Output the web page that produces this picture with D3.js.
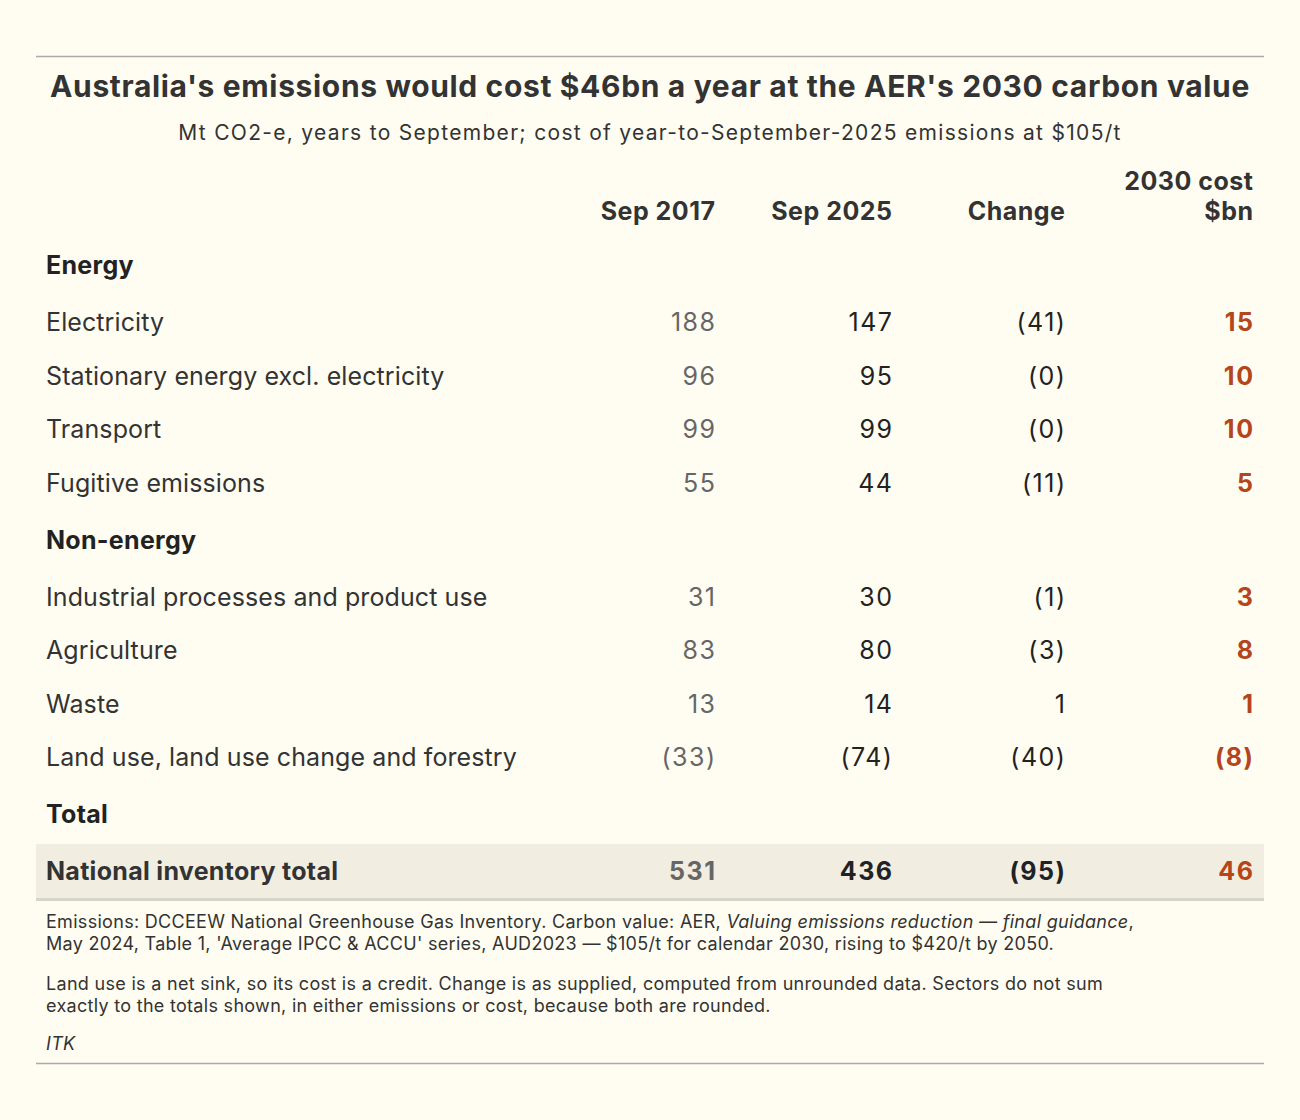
<!DOCTYPE html>
<html>
<head>
<meta charset="utf-8">
<title>Australia's emissions cost table</title>
<style>
  body { margin: 0; background: #fffdf2; }
  svg { display: block; font-family: Inter, Roboto, "Noto Sans", sans-serif; }
  .title { font-size: 30px; font-weight: 700; fill: #333; letter-spacing: 0.65px; }
  .subtitle { font-size: 21px; fill: #333; letter-spacing: 1.3px; }
  .head { font-size: 25px; font-weight: 700; fill: #333; letter-spacing: 0.5px; }
  .label { font-size: 25px; fill: #333; letter-spacing: 0.1px; }
  .group { font-size: 25px; font-weight: 700; fill: #222; letter-spacing: 0.3px; }
  .num { font-size: 25px; fill: #333; letter-spacing: 1.5px; }
  .note { font-size: 18px; fill: #333; letter-spacing: 0.3px; }
</style>
</head>
<body>
<svg class="chart" width="1300" height="1120"></svg>
<script src="https://d3js.org/d3.v7.min.js"></script>
<script>

// sector rows, in table order
var groups = ["Energy", "Energy", "Energy", "Energy",
              "Non-energy", "Non-energy", "Non-energy", "Non-energy"];
var sectors = ["Electricity",
               "Stationary energy excl. electricity",
               "Transport",
               "Fugitive emissions",
               "Industrial processes and product use",
               "Agriculture",
               "Waste",
               "Land use, land use change and forestry"];
var sep2017 = [188, 96, 99, 55, 31, 83, 13, -33];
var sep2025 = [147, 95, 99, 44, 30, 80, 14, -74];
var change  = [-41, -0, -0, -11, -1, -3, 1, -40];   // -0 shows as (0)
var cost    = [15, 10, 10, 5, 3, 8, 1, -8];

var totalLabel = "National inventory total";
var totalValues = [531, 436, -95, 46];

var columns = ["Sep 2017", "Sep 2025", "Change", "2030 cost\n$bn"];

var width = 1300, height = 1120;
var left = 36, right = 1264;

var svg = d3.select('.chart')
    .attr('width', width)
    .attr('height', height);

svg.append('rect').attr('width', width).attr('height', height).attr('fill', '#fffdf2');

// build the row list: group headers, sectors, then the total
var rows = [];
sectors.forEach(function(s, i) {
    if (i === 0 || groups[i] !== groups[i - 1]) rows.push({type: 'group', label: groups[i]});
    rows.push({type: 'row', label: s, values: [sep2017[i], sep2025[i], change[i], cost[i]]});
});
rows.push({type: 'group', label: 'Total'});
rows.push({type: 'total', label: totalLabel, values: totalValues});

// row heights: a bit more room next to group headers
var y = 265;
rows.forEach(function(r, i) {
    if (i > 0) {
        y += 53.5;
        if (r.type !== 'row' || rows[i - 1].type === 'group') y += 3.5;
    }
    r.y = y;
});

// right edges of numeric columns
var xCol = d3.scaleOrdinal()
    .domain(d3.range(columns.length))
    .range([715, 892, 1065, 1253]);

function fmt(v) {
    var neg = v < 0 || (v === 0 && 1 / v < 0);
    return neg ? '(' + Math.abs(v) + ')' : String(v);
}

// rules
svg.append('line').attr('x1', left).attr('x2', right).attr('y1', 56.5).attr('y2', 56.5)
    .attr('stroke', '#aaa').attr('stroke-width', 1.5);
svg.append('line').attr('x1', left).attr('x2', right).attr('y1', 1063.5).attr('y2', 1063.5)
    .attr('stroke', '#aaa').attr('stroke-width', 1.5);

// title
svg.append('text').attr('class', 'title')
    .attr('x', 650).attr('y', 86).attr('text-anchor', 'middle').attr('dominant-baseline', 'central')
    .text("Australia's emissions would cost $46bn a year at the AER's 2030 carbon value");
svg.append('text').attr('class', 'subtitle')
    .attr('x', 650).attr('y', 132).attr('text-anchor', 'middle').attr('dominant-baseline', 'central')
    .text("Mt CO2-e, years to September; cost of year-to-September-2025 emissions at $105/t");

// column headers (letter-spacing trails the last glyph, so nudge right)
var heads = svg.append('g').selectAll('text')
    .data(columns)
    .enter()
    .append('text')
    .attr('class', 'head')
    .attr('text-anchor', 'end')
    .attr('dominant-baseline', 'central');
heads.each(function(d, i) {
    var lines = d.split('\n');
    var t = d3.select(this);
    lines.forEach(function(l, j) {
        t.append('tspan')
            .attr('x', xCol(i) + 0.5)
            .attr('y', 211 - (lines.length - 1 - j) * 30)
            .text(l);
    });
});

// total band
var totalRow = rows[rows.length - 1];
svg.append('rect')
    .attr('x', left).attr('width', right - left)
    .attr('y', totalRow.y - 27).attr('height', 54)
    .attr('fill', '#f1eee1');
svg.append('rect')
    .attr('x', left).attr('width', right - left)
    .attr('y', totalRow.y + 27).attr('height', 3)
    .attr('fill', '#d6d4cc');

// rows
var rowG = svg.append('g').selectAll('g')
    .data(rows)
    .enter()
    .append('g')
    .attr('transform', function(d) { return 'translate(0,' + d.y + ')'; });

rowG.append('text')
    .attr('class', function(d) { return d.type === 'row' ? 'label' : 'group'; })
    .attr('x', 46)
    .attr('dominant-baseline', 'central')
    .style('fill', function(d) { return d.type === 'total' ? '#333' : null; })
    .text(function(d) { return d.label; });

var colColor = ['#666', '#222', '#222', '#b5451b'];

rowG.filter(function(d) { return d.values; })
    .selectAll('text.num')
    .data(function(d) { return d.values.map(function(v) { return {v: v, total: d.type === 'total'}; }); })
    .enter()
    .append('text')
    .attr('class', 'num')
    .attr('x', function(d, i) { return xCol(i) + 1.5; })
    .attr('text-anchor', 'end')
    .attr('dominant-baseline', 'central')
    .style('fill', function(d, i) { return colColor[i]; })
    .style('font-weight', function(d, i) { return (d.total || i === 3) ? 700 : 400; })
    .text(function(d) { return fmt(d.v); });

// notes
var notes = svg.append('g').attr('class', 'note');
var n1 = notes.append('text').attr('x', 46).attr('y', 921).attr('dominant-baseline', 'central');
n1.append('tspan').text('Emissions: DCCEEW National Greenhouse Gas Inventory. Carbon value: AER, ');
n1.append('tspan').style('font-style', 'italic').text('Valuing emissions reduction \u2014 final guidance');
n1.append('tspan').text(',');
notes.append('text').attr('x', 46).attr('y', 943).attr('dominant-baseline', 'central')
    .text("May 2024, Table 1, 'Average IPCC & ACCU' series, AUD2023 \u2014 $105/t for calendar 2030, rising to $420/t by 2050.");
notes.append('text').attr('x', 46).attr('y', 983).attr('dominant-baseline', 'central')
    .text('Land use is a net sink, so its cost is a credit. Change is as supplied, computed from unrounded data. Sectors do not sum');
notes.append('text').attr('x', 46).attr('y', 1005).attr('dominant-baseline', 'central')
    .text('exactly to the totals shown, in either emissions or cost, because both are rounded.');
notes.append('text').attr('x', 46).attr('y', 1043).attr('dominant-baseline', 'central')
    .style('font-style', 'italic').text('ITK');

</script>
</body>
</html>
